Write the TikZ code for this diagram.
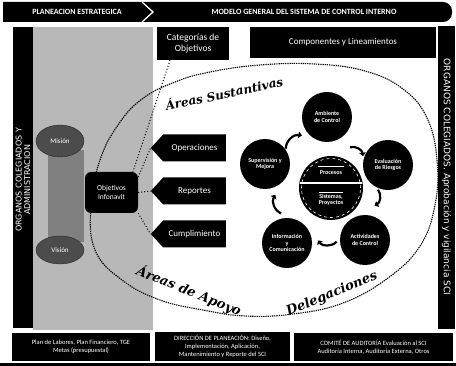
\documentclass[tikz,border=0pt]{standalone}
\usepackage{fontspec}
\setmainfont{Carlito}
\newfontfamily\barfont{DejaVu Sans}
\newfontfamily\decofont{DejaVu Serif}
\usetikzlibrary{shapes.geometric,shapes.symbols,arrows.meta,calc}
\begin{document}
\begin{tikzpicture}[x=1pt,y=-1pt,
  blackbox/.style={fill=black,text=white,align=center,inner sep=0pt},
  comp/.style={circle,fill=black,text=white,minimum size=50pt,inner sep=0pt,align=center,font=\fontsize{6}{6.5}\selectfont\bfseries},
  objarrow/.style={signal,signal to=west,signal pointer angle=95,fill=black,text=white,minimum width=75pt,minimum height=27pt,inner sep=0pt,font=\fontsize{9}{10}\selectfont},
  conn/.style={dotted,line width=1pt},
  areadash/.style={dash pattern=on 1.3pt off 0.9pt,line width=1.1pt},
  cyc/.style={line width=2.2pt,-{Triangle[length=3.5pt,width=6.5pt]}},
  deco/.style={font=\decofont\bfseries\itshape,inner sep=0pt},
  pillar/.style={ellipse,fill=black!70,draw=black!85,text=white,inner sep=0pt,font=\fontsize{7}{8}\selectfont},
  ]
\useasboundingbox (0,0) rectangle (456,366);
\fill[white] (0,0) rectangle (456,366);
% textured zone on the left
\fill[black!28] (33,27) rectangle (153,330);
\fill[black!50] (48,150) rectangle (84,242);
\node[pillar,minimum width=48pt,minimum height=32pt] (mision) at (60,141) {Misión};
\node[pillar,minimum width=48pt,minimum height=28pt] (vision) at (60,250) {Visión};

% top banner
\fill (3,22) -- (3,2) [rounded corners=9pt] -- (452,2) -- (452,22) [sharp corners] -- cycle;
\draw[white,line width=1.3pt] (142,2) -- (153,12) -- (142,22);
\node[text=white,font=\fontsize{8}{8}\selectfont\bfseries] (plan) at (77,12) {PLANEACION ESTRATEGICA};
\node[text=white,font=\fontsize{8}{8}\selectfont\bfseries] (modelo) at (304,12) {MODELO GENERAL DEL SISTEMA DE CONTROL INTERNO};

% side bars
\node[blackbox,minimum width=20pt,minimum height=301pt] (lbar) at (23,177.5) {};
\node[rotate=90,text=white,align=center,inner sep=0pt,font=\barfont\fontsize{8}{8.5}\selectfont] (ltext) at (23,180) {ORGANOS COLEGIADOS Y\\ADMINISTRACION};
\node[blackbox,minimum width=17pt,minimum height=303pt] (rbar) at (446.5,178) {};
\node[rotate=-90,text=white,inner sep=0pt,font=\barfont\fontsize{9}{9}\selectfont] (rtext) at (446.5,177) {ORGANOS COLEGIADOS. Aprobación y vigilancia SCI};

% header boxes
\node[blackbox,minimum width=72pt,minimum height=33pt,font=\fontsize{9.5}{11}\selectfont] (cat) at (193,43.5) {Categorías de\\Objetivos};
\node[blackbox,minimum width=186pt,minimum height=31pt,font=\fontsize{9}{10}\selectfont] (compo) at (343,42.5) {Componentes y Lineamientos};

% big dashed ellipse
\draw[areadash] plot[smooth cycle,tension=0.7] coordinates {(95,250) (91,205) (100,160) (118,125) (142,99) (175,82) (210,72) (260,65) (315,64) (365,71) (403,89) (427,118) (437,160) (435,205) (420,246) (388,278) (343,303) (293,314) (245,316) (203,310) (160,300) (122,280)};

\node[deco,rotate=12,font=\decofont\bfseries\itshape\fontsize{12}{12}\selectfont] (sust) at (224,93) {Áreas Sustantivas};
\node[deco,rotate=-22,font=\decofont\bfseries\itshape\fontsize{13}{13}\selectfont] (apoyo) at (189,291) {Áreas de Apoyo};
\node[deco,rotate=22,font=\decofont\bfseries\itshape\fontsize{13}{13}\selectfont] (deleg) at (332,294) {Delegaciones};

% objectives
\node[blackbox,rounded corners=6pt,minimum width=53pt,minimum height=41pt,font=\fontsize{7.5}{9}\selectfont] (obj) at (111.5,192.5) {Objetivos\\Infonavit};
\node[objarrow] (oper) at (194.5,148) {Operaciones};
\node[objarrow] (rep) at (194.5,191) {Reportes};
\node[objarrow] (cum) at (194.5,234) {Cumplimiento};
\draw[conn] (cat.-144) -- (obj.44);
\draw[conn] (obj.30) -- (oper.west);
\draw[conn] (obj.east) -- (rep.west);
\draw[conn] (obj.south east) -- (cum.west);

% components cycle
\node[comp] (amb) at (327,117) {Ambiente\\de Control};
\node[comp] (eval) at (388,165) {Evaluación\\de Riesgos};
\node[comp] (act) at (365,240) {Actividades\\de Control};
\node[comp] (info) at (287,243) {Información\\y\\Comunicación};
\node[comp] (sup) at (265,164) {Supervisión y\\Mejora};
\node[circle,fill=black,minimum size=64pt,inner sep=0pt] (cen) at (331,188) {};
\draw[white,dashed,line width=0.6pt] (cen) circle[radius=29.5pt];
\draw[white,line width=1.2pt] ($(cen)+(-31,-5)$) -- ($(cen)+(31,-5)$);
\draw[white,line width=0.8pt] ($(cen)+(-13,-22)$) -- ($(cen)+(13,-22)$);
\node[text=white,inner sep=0pt,font=\fontsize{6}{6.5}\selectfont\bfseries] (proc) at ($(cen)+(0,-15)$) {Procesos};
\draw[white,line width=0.8pt] ($(cen)+(-12,4)$) -- ($(cen)+(12,4)$);
\node[text=white,inner sep=0pt,align=center,font=\fontsize{6}{6.5}\selectfont\bfseries] (sist) at ($(cen)+(0,12)$) {Sistemas,\\Proyectos};
\foreach \a/\r in {-129/60,-55/45,12/47,94/54,163/56} {
  \draw[cyc] ($(cen)+(\a-10:\r)$) to[bend left=50] ($(cen)+(\a+10:\r)$);
}

% bottom boxes
\node[blackbox,minimum width=138pt,minimum height=28pt,font=\fontsize{6.5}{8}\selectfont] (labores) at (81,347) {Plan de Labores, Plan Financiero, TGE\\Metas (presupuestal)};
\node[blackbox,minimum width=135pt,minimum height=29pt,font=\fontsize{6.5}{8}\selectfont] (direc) at (222.5,346.5) {DIRECCIÓN DE PLANEACIÓN: Diseño,\\Implementación, Aplicación,\\Mantenimiento y Reporte del SCI};
\node[blackbox,minimum width=159pt,minimum height=28pt,font=\fontsize{6.5}{8}\selectfont] (comite) at (373.5,347) {COMITÉ DE AUDITORÍA Evaluación al SCI\\Auditoría Interna, Auditoría Externa, Otros};
\fill (0,363) rectangle (456,366);
\end{tikzpicture}
\end{document}
